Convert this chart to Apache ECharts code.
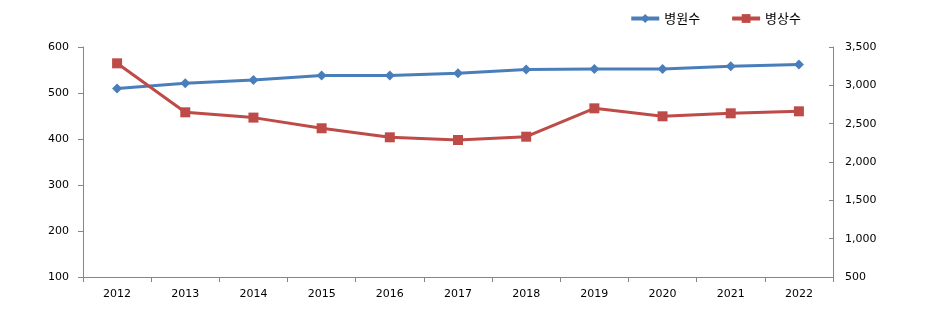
<!DOCTYPE html>
<html><head><meta charset="utf-8">
<script src="https://cdn.jsdelivr.net/npm/echarts@6/dist/echarts.min.js"></script>
<style>html,body{margin:0;padding:0;background:#fff}#c{width:939px;height:323px}</style>
</head><body><div id="c"></div>
<script>
const years = ['2012','2013','2014','2015','2016','2017','2018','2019','2020','2021','2022'];
const hospitals = [510, 521, 528, 538, 538, 543, 551, 552, 552, 558, 562];
const beds = [3287, 2648, 2579, 2440, 2322, 2287, 2330, 2700, 2596, 2635, 2661];
const seriesNames = ['병원수', '병상수'];

const chart = echarts.init(document.getElementById('c'));
const axisLbl = {color:'#000', fontSize:11, fontFamily:'DejaVu Sans'};
const axisLine = {show:true, lineStyle:{color:'#868686', width:1}};
chart.setOption({
  animation:false,
  legend:{
    right:133, top:7, itemWidth:28, itemHeight:11, itemGap:30,
    lineStyle:{width:4},
    textStyle:{color:'#000', fontSize:13, fontFamily:'Noto Sans CJK KR'},
    data:seriesNames
  },
  grid:{left:83, right:106, top:47, bottom:46},
  xAxis:{
    type:'category', data:years, boundaryGap:true,
    axisLine:axisLine, axisTick:{show:true, lineStyle:{color:'#868686'}, length:5},
    axisLabel:Object.assign({margin:12}, axisLbl)
  },
  yAxis:[
    {type:'value', min:100, max:600, interval:100, position:'left',
     axisLine:axisLine, axisTick:{show:true, length:5, lineStyle:{color:'#868686'}},
     splitLine:{show:false}, axisLabel:Object.assign({margin:14}, axisLbl)},
    {type:'value', min:500, max:3500, interval:500, position:'right',
     axisLine:axisLine, axisTick:{show:true, length:4, inside:true, lineStyle:{color:'#868686'}},
     splitLine:{show:false},
     axisLabel:Object.assign({margin:12, formatter:v=>v.toLocaleString('en-US')}, axisLbl)}
  ],
  series:[
    {name:seriesNames[0], type:'line', yAxisIndex:0, data:hospitals,
     symbol:'diamond', symbolSize:10, itemStyle:{color:'#4A7EBB'},
     lineStyle:{color:'#4A7EBB', width:3}},
    {name:seriesNames[1], type:'line', yAxisIndex:1, data:beds,
     symbol:'rect', symbolSize:10, itemStyle:{color:'#BE4B48'},
     lineStyle:{color:'#BE4B48', width:3}}
  ]
});
</script></body></html>
